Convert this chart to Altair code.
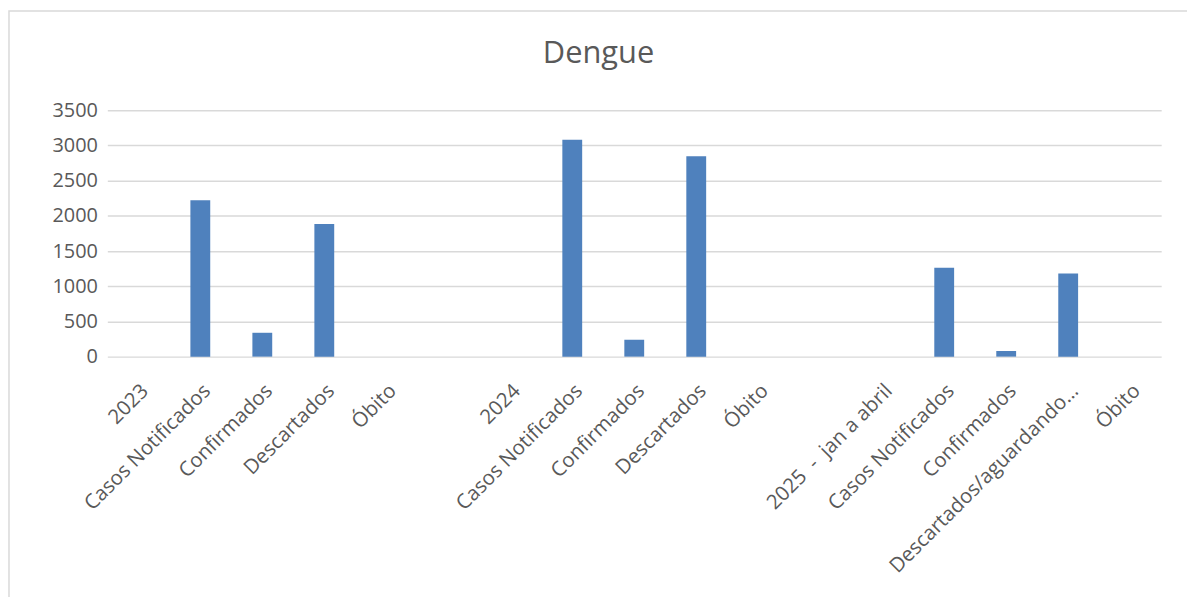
import json
import altair as alt
import pandas as pd

categories = ["2023", "Casos Notificados", "Confirmados", "Descartados", "Óbito", "",
              "2024", "Casos Notificados", "Confirmados", "Descartados", "Óbito", "",
              "2025 \u00a0- \u00a0jan a abril", "Casos Notificados", "Confirmados",
              "Descartados/aguardando…", "Óbito"]
values = [None, 2221, 339, 1883, 0, None,
          None, 3082, 240, 2847, 0, None,
          None, 1262, 80, 1181, 0]
y_ticks = [0, 500, 1000, 1500, 2000, 2500, 3000, 3500]

idx = list(range(len(categories)))
df = pd.DataFrame({"idx": idx, "cat": categories, "value": values})
df = df[df["value"].notna()]

FONT = "Open Sans"
GREY = "#595959"
label_expr = json.dumps(categories, ensure_ascii=False) + "[datum.value]"

W, H = 1061, 248

bars = alt.Chart(df).mark_bar(color="#4F81BD").encode(
    x=alt.X("idx:O",
            scale=alt.Scale(domain=idx, paddingInner=0.68, paddingOuter=0.34),
            axis=alt.Axis(title=None, labelAngle=-45, labelExpr=label_expr,
                          labelFont=FONT, labelFontSize=20.5, labelColor=GREY,
                          ticks=False, domain=False, labelPadding=24,
                          labelOverlap=False, labelLimit=400)),
    y=alt.Y("value:Q",
            scale=alt.Scale(domain=[0, 3500], nice=False),
            axis=alt.Axis(title=None, values=y_ticks, format="d", labelFont=FONT,
                          labelFontSize=20, labelColor=GREY, ticks=False,
                          domain=False, labelPadding=10, gridColor="#D9D9D9",
                          gridWidth=1.5)),
)

frame = alt.Chart(pd.DataFrame({"a": [0]})).mark_rect(
    fill=None, stroke="#D9D9D9", strokeWidth=1.5, clip=False
).encode(
    x=alt.value(-99), x2=alt.value(W + 60),
    y=alt.value(-100), y2=alt.value(H + 400),
)

chart = alt.layer(frame, bars).properties(
    width=W, height=H,
    autosize=alt.AutoSizeParams(type="none"),
    padding={"left": 100, "top": 101, "right": 26, "bottom": 240},
    title=alt.TitleParams("Dengue", font=FONT, fontSize=31, fontWeight="normal",
                          color=GREY, anchor="middle", dx=-36, offset=0, dy=60),
).configure(background="white").configure_view(stroke=None)

chart.save("out.html", embed_options={"renderer": "svg", "actions": False})
